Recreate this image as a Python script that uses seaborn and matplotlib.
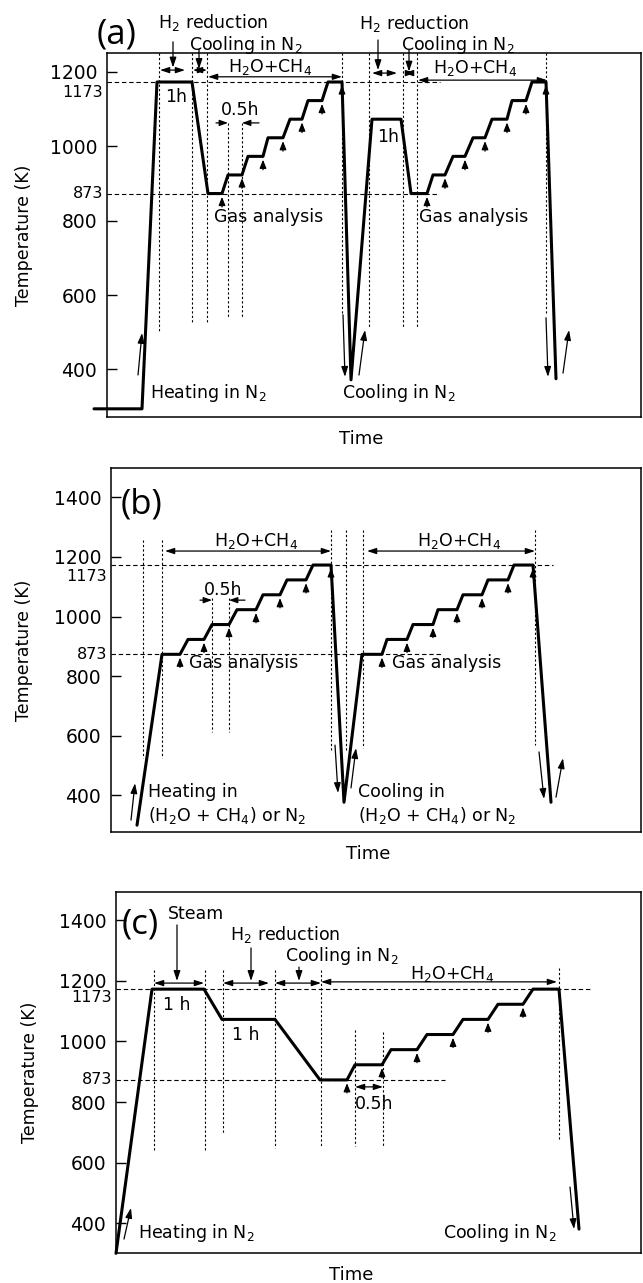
import matplotlib
matplotlib.use('Agg')
import matplotlib.pyplot as plt
import numpy as np
import seaborn as sns

# Temperature programs (time in arbitrary units from the left axis, temperature in K)
time_a = [-13, 35, 50, 85, 101, 115, 121, 135, 141, 156, 161, 176, 183, 195, 201, 215, 221, 235,
          244, 265, 294, 304, 320, 326, 338, 346, 358, 366, 378, 385, 400, 405, 419, 425, 439, 449]
temp_a = [294, 294, 1173, 1173, 873, 873, 923, 923, 973, 973, 1023, 1023, 1073, 1073, 1123, 1123, 1173, 1173,
          372, 1073, 1073, 873, 873, 923, 923, 973, 973, 1023, 1023, 1073, 1073, 1123, 1123, 1173, 1173, 375]

time_b = [26, 51, 69, 77, 93, 101, 118, 126, 145, 152, 169, 176, 195, 202, 220,
          233, 251, 271, 276, 296, 302, 322, 327, 346, 352, 371, 377, 397, 403, 422, 440]
temp_b = [299, 873, 873, 923, 923, 973, 973, 1023, 1023, 1073, 1073, 1123, 1123, 1173, 1173,
          376, 873, 873, 923, 923, 973, 973, 1023, 1023, 1073, 1073, 1123, 1123, 1173, 1173, 376]

time_c = [0, 36, 88, 106, 159, 204, 231, 239, 266, 275, 301, 311, 337, 347, 372, 382, 407, 417, 443, 463]
temp_c = [300, 1173, 1173, 1073, 1073, 873, 873, 923, 923, 973, 973, 1023, 1023, 1073, 1073, 1123, 1123, 1173, 1173, 380]

# gas analysis sampling times (end of each isothermal step)
gas_a = [115, 135, 156, 176, 195, 215, 235, 320, 338, 358, 378, 400, 419, 439]
gas_b = [69, 93, 118, 145, 169, 195, 220, 271, 296, 322, 346, 371, 397, 422]
gas_c = [231, 266, 301, 337, 372, 407]

yticks_a = [400, 600, 800, 1000, 1200]
yticks_bc = [400, 600, 800, 1000, 1200, 1400]

sns.set_style('ticks')
plt.rcParams['font.family'] = ['DejaVu Sans']
plt.rcParams['mathtext.fontset'] = 'dejavusans'
plt.rcParams['text.color'] = 'black'
plt.rcParams['axes.labelcolor'] = 'black'
plt.rcParams['xtick.color'] = 'black'
plt.rcParams['ytick.color'] = 'black'

W, H = 643, 1283
fig = plt.figure(figsize=(W / 100, H / 100), dpi=100)

FS = 12.5
H2 = r'H$_2$ reduction'
CN2 = r'Cooling in N$_2$'
HCH = r'H$_2$O+CH$_4$'


def panel(left, top, right, bottom):
    return fig.add_axes([left / W, 1 - bottom / H, (right - left) / W, (bottom - top) / H])


def style(ax, xlim, ylim, yticks, ref_label_y, ylab_x, xlab_x):
    ax.set_xlim(xlim)
    ax.set_ylim(ylim)
    ax.set_xticks([])
    ax.set_yticks(yticks)
    ax.tick_params(axis='y', direction='in', length=7, width=1, labelsize=13.5, pad=7,
                   colors='black')
    for s in ax.spines.values():
        s.set_linewidth(1.1)
        s.set_color('k')
    tr = ax.get_yaxis_transform()
    ax.text(-0.007, ref_label_y, '1173', transform=tr, ha='right', va='center', fontsize=11.5)
    ax.text(-0.007, 873, '873', transform=tr, ha='right', va='center', fontsize=11.5)
    ax.set_ylabel('Temperature (K)', fontsize=12.5)
    ax.yaxis.set_label_coords(ylab_x, 0.5)
    ax.set_xlabel('Time', fontsize=13)
    ax.xaxis.set_label_coords(xlab_x, -0.035)


def profile(ax, t, T):
    sns.lineplot(x=t, y=T, sort=False, estimator=None, color='k', lw=2.2, ax=ax)
    ax.lines[-1].set_clip_on(False)


def arrow(ax, x0, y0, x1, y1, style='-|>', hl=0.6, hw=0.2, lw=0.9):
    ax.annotate('', xy=(x1, y1), xytext=(x0, y0),
                arrowprops=dict(arrowstyle=f'{style},head_length={hl},head_width={hw}',
                                lw=lw, color='k', shrinkA=0, shrinkB=0, mutation_scale=10),
                annotation_clip=False)


def dbl(ax, x0, x1, y):
    arrow(ax, x0, y, x1, y, style='<|-|>', hl=0.55, hw=0.18)


def txt(ax, x, y, s, ha='center', fs=FS):
    ax.text(x, y, s, ha=ha, va='center', fontsize=fs, clip_on=False)


def vlines(ax, lines):
    for x, y0, y1 in lines:
        ax.plot([x, x], [y0, y1], color='k', lw=0.8, ls=(0, (2, 2)), clip_on=False)


def hlines(ax, lines):
    for y, x0, x1 in lines:
        ax.plot([x0, x1], [y, y], color='k', lw=0.8, ls=(0, (4, 2.5)))


def gas_arrows(ax, times, t, T, length):
    for g in times:
        level = np.interp(g, t, T)
        arrow(ax, g, level - length, g, level - 0.25 * length, hl=0.5, hw=0.2, lw=0.9)


# ---------------- (a) ----------------
ax = panel(107, 53, 641, 417)
style(ax, (0, 534), (272, 1251), yticks_a, 1144, -0.139, 0.476)
hlines(ax, [(1173, 0, 333), (873, 0, 331)])
vlines(ax, [(52, 1251, 501), (85, 1251, 525), (100, 1251, 525), (121, 1063, 539), (135, 1063, 539),
            (235, 1251, 547), (262, 1251, 512), (296, 1251, 514), (310, 1251, 514), (439, 1251, 552)])
profile(ax, time_a, temp_a)
gas_arrows(ax, gas_a, time_a, temp_a, 36)
ax.text(10, 1302, '(a)', ha='center', va='center', fontsize=25, family=['Open Sans'])
txt(ax, 106, 1334, H2)
txt(ax, 139, 1273, CN2)
txt(ax, 163, 1213, HCH)
txt(ax, 307, 1329, H2)
txt(ax, 351, 1273, CN2)
txt(ax, 368, 1211, HCH)
txt(ax, 69, 1133, '1h')
txt(ax, 281, 1025, '1h')
txt(ax, 133, 1098, '0.5h')
txt(ax, 107, 810, 'Gas analysis', ha='left')
txt(ax, 312, 810, 'Gas analysis', ha='left')
txt(ax, 43, 337, r'Heating in N$_2$', ha='left')
txt(ax, 235, 337, CN2, ha='left')
arrow(ax, 66, 1281, 66, 1212)
arrow(ax, 92, 1262, 92, 1208)
arrow(ax, 271, 1286, 271, 1205)
arrow(ax, 302, 1259, 302, 1201)
dbl(ax, 53, 78, 1205)
dbl(ax, 86, 100, 1205)
dbl(ax, 265, 290, 1197)
dbl(ax, 297, 308, 1197)
dbl(ax, 101, 235, 1187)
dbl(ax, 311, 440, 1178)
arrow(ax, 109, 1063, 121, 1063, hl=0.5, hw=0.18)
arrow(ax, 152, 1063, 135, 1063, hl=0.5, hw=0.18)
arrow(ax, 31, 385, 35, 498)
arrow(ax, 236, 547, 238, 380)
arrow(ax, 252, 385, 258, 506)
arrow(ax, 439, 539, 441, 380)
arrow(ax, 456, 390, 462, 506)

# ---------------- (b) ----------------
ax = panel(111, 468, 641, 832)
style(ax, (0, 530), (276, 1499), yticks_bc, 1133, -0.147, 0.485)
hlines(ax, [(1173, 0, 442), (873, 0, 330)])
vlines(ax, [(32, 1257, 524), (51, 1257, 524), (101, 1062, 612), (118, 1062, 612),
            (220, 1291, 545), (235, 1291, 551), (252, 1291, 558), (424, 1291, 568)])
profile(ax, time_b, temp_b)
gas_arrows(ax, gas_b, time_b, temp_b, 44)
ax.text(31, 1375, '(b)', ha='center', va='center', fontsize=25, family=['Open Sans'])
txt(ax, 145, 1254, HCH)
txt(ax, 348, 1254, HCH)
dbl(ax, 54, 220, 1220)
dbl(ax, 256, 424, 1220)
txt(ax, 112, 1089, '0.5h')
arrow(ax, 89, 1055, 101, 1055, hl=0.5, hw=0.18)
arrow(ax, 134, 1055, 118, 1055, hl=0.5, hw=0.18)
txt(ax, 78, 844, 'Gas analysis', ha='left')
txt(ax, 281, 844, 'Gas analysis', ha='left')
txt(ax, 37, 410, 'Heating in', ha='left')
txt(ax, 37, 333, r'(H$_2$O + CH$_4$) or N$_2$', ha='left')
txt(ax, 247, 410, 'Cooling in', ha='left')
txt(ax, 247, 333, r'(H$_2$O + CH$_4$) or N$_2$', ha='left')
arrow(ax, 20, 316, 24, 440)
arrow(ax, 224, 568, 227, 407)
arrow(ax, 240, 424, 245, 558)
arrow(ax, 428, 545, 433, 387)
arrow(ax, 445, 393, 452, 524)

# ---------------- (c) ----------------
ax = panel(116, 892, 641, 1253)
style(ax, (0, 525), (301, 1494), yticks_bc, 1144, -0.147, 0.448)
hlines(ax, [(1173, 0, 474), (873, 0, 329)])
vlines(ax, [(38, 1236, 635), (89, 1236, 635), (107, 1236, 698), (159, 1236, 648), (205, 1236, 655),
            (239, 1038, 655), (267, 1031, 655), (443, 1243, 678)])
profile(ax, time_c, temp_c)
gas_arrows(ax, gas_c, time_c, temp_c, 43)
ax.text(24, 1388, '(c)', ha='center', va='center', fontsize=25, family=['Open Sans'])
txt(ax, 80, 1421, 'Steam')
txt(ax, 169, 1355, H2)
txt(ax, 226, 1283, CN2)
txt(ax, 336, 1223, HCH)
arrow(ax, 61, 1385, 61, 1200)
arrow(ax, 135, 1309, 135, 1200)
arrow(ax, 183, 1246, 183, 1200)
dbl(ax, 38, 88, 1193)
dbl(ax, 107, 153, 1193)
dbl(ax, 159, 205, 1193)
dbl(ax, 205, 441, 1197)
txt(ax, 61, 1121, '1 h')
txt(ax, 130, 1021, '1 h')
dbl(ax, 239, 267, 850)
txt(ax, 258, 793, '0.5h')
txt(ax, 22, 367, r'Heating in N$_2$', ha='left')
txt(ax, 327, 367, CN2, ha='left')
arrow(ax, 8, 347, 15, 450)
arrow(ax, 454, 519, 458, 380)

fig.savefig('out.png', dpi=100)
